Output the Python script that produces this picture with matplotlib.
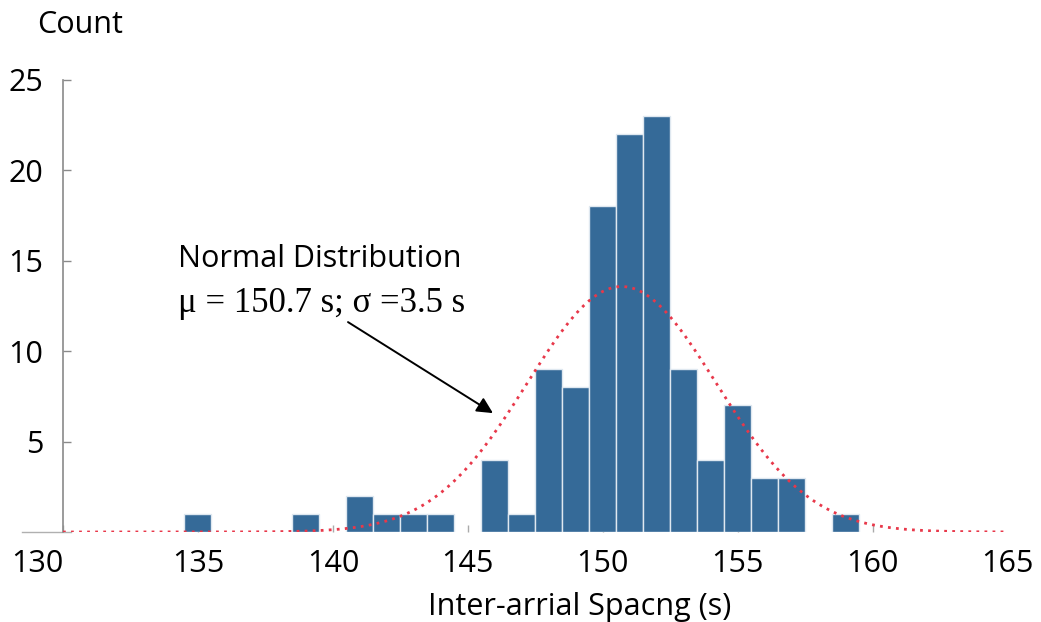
import numpy as np
import matplotlib
matplotlib.use("Agg")
import matplotlib.pyplot as plt

plt.rcParams['font.family'] = ['Open Sans', 'DejaVu Sans']

# Histogram bins (1 s wide, centred on integers) and counts
bin_centers = [135, 139, 141, 142, 143, 144, 146, 147, 148, 149, 150,
               151, 152, 153, 154, 155, 156, 157, 159]
counts = [1, 1, 2, 1, 1, 1, 4, 1, 9, 8, 18, 22, 23, 9, 4, 7, 3, 3, 1]

# Fitted normal distribution stated on the chart
mu = 150.7
sigma = 3.5

x_ticks = [130, 135, 140, 145, 150, 155, 160, 165]
y_ticks = [5, 10, 15, 20, 25]

bar_color = '#356a98'
curve_color = '#e8384a'
axis_gray = '#8a8a8a'

fig = plt.figure(figsize=(10.41, 6.22), dpi=100)
ax = fig.add_axes([0.0605, 0.1447, 0.968 - 0.0605, 0.872 - 0.1447])

ax.bar(bin_centers, counts, width=1.0, color=bar_color, edgecolor='#dfe8f0',
       linewidth=1.0, zorder=3)

# normal curve scaled to the histogram (N * bin width * pdf)
n_total = sum(counts)
xs = np.linspace(130, 165, 400)
ys = n_total / (sigma * np.sqrt(2 * np.pi)) * np.exp(-0.5 * ((xs - mu) / sigma) ** 2)
ax.plot(xs, ys, color=curve_color, lw=2.0, linestyle=(0, (1, 1.9)), zorder=4)

ax.set_xlim(130, 165)
ax.set_ylim(0, 25)

for s in ['top', 'right', 'bottom']:
    ax.spines[s].set_visible(False)
ax.spines['left'].set_color(axis_gray)
ax.spines['left'].set_linewidth(1.2)

# short grey baseline stub left of the y axis
ax.plot([128.5, 130.3], [0, 0], color='#b0b0b0', lw=1.0, clip_on=False, zorder=2)

ax.set_xticks(x_ticks)
ax.set_yticks(y_ticks)
ax.tick_params(axis='x', direction='in', length=5, color='#aaaaaa', width=1,
               labelsize=22, pad=12)
ax.tick_params(axis='y', direction='in', length=6, color=axis_gray, width=1,
               labelsize=22, pad=14)
ax.get_xticklabels()[0].set_horizontalalignment('right')
ax.xaxis.get_major_ticks()[-1].tick1line.set_visible(False)

fig.text(37 / 1041, 1 - 25 / 622, 'Count', fontsize=22, va='center', ha='left')
fig.text(580 / 1041, 1 - 607 / 622, 'Inter-arrial Spacng (s)', fontsize=22,
         va='center', ha='center')

ax.text(134.26, 15.1, 'Normal Distribution', fontsize=22, va='center', ha='left')
ax.text(134.26, 12.6, '\u03bc = 150.7 s; \u03c3 =3.5 s', fontsize=25,
        family=['Liberation Serif', 'DejaVu Serif'], va='center', ha='left')

ax.annotate('', xy=(145.93, 6.57), xytext=(140.56, 11.6),
            arrowprops=dict(arrowstyle='-|>', color='black', lw=1.4,
                            mutation_scale=24, shrinkA=0, shrinkB=0))

fig.savefig('out.png', dpi=100)
